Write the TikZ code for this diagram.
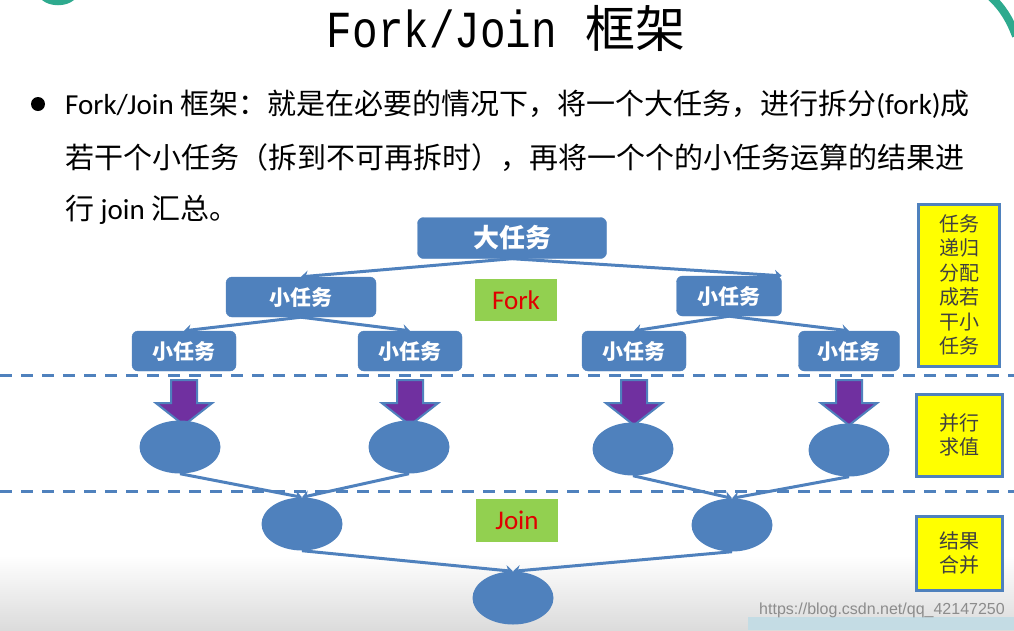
\documentclass[tikz,border=0pt]{standalone}
\usepackage{fontspec}
\setmainfont{Liberation Serif}
\newfontfamily\cjk{Noto Sans CJK SC}
\newfontfamily\latin{Carlito}
\newfontfamily\titlefont{Liberation Mono}
\newfontfamily\wmfont{Liberation Sans}
\usetikzlibrary{shapes.geometric,arrows.meta}

\definecolor{boxblue}{HTML}{4F81BD}
\definecolor{forkgreen}{HTML}{92D050}
\definecolor{arrowpurple}{HTML}{7030A0}
\definecolor{noteyellow}{HTML}{FFFF00}
\definecolor{labelred}{HTML}{E00000}
\definecolor{cornerteal}{HTML}{2EAA8E}
\definecolor{bottomblue}{HTML}{C4DCE4}

\tikzset{
  bigtask/.style={rounded corners=6pt, fill=boxblue, draw=boxblue, text=white,
    font=\cjk\bfseries\fontsize{26}{26}\selectfont, inner sep=0pt,
    minimum width=189pt, minimum height=41pt},
  subtask/.style={rounded corners=6pt, fill=boxblue, draw=boxblue, text=white,
    font=\cjk\bfseries\fontsize{21}{21}\selectfont, inner sep=0pt, minimum height=40pt},
  leaf/.style={ellipse, fill=boxblue, draw=none, minimum width=81pt, minimum height=53pt},
  phase/.style={fill=forkgreen, text=labelred, font=\latin\fontsize{27}{27}\selectfont,
    inner sep=0pt, minimum width=82pt, minimum height=42pt},
  note/.style={fill=noteyellow, draw=boxblue, line width=3pt, text=black!75,
    font=\cjk\fontsize{20}{24.5}\selectfont, align=center, inner sep=0pt},
  body/.style={font=\cjk\fontsize{29}{29}\selectfont, inner sep=0pt, anchor=west},
  link/.style={draw=boxblue, line width=3pt, -{Stealth[length=7pt,width=11pt]}},
  sepline/.style={draw=boxblue, line width=3pt, dash pattern=on 12pt off 9pt},
  fatarrow/.style={fill=arrowpurple, draw=boxblue, line width=2pt, line join=miter}
}

\begin{document}
\begin{tikzpicture}[x=1pt,y=-1pt]
  \useasboundingbox (0,0) rectangle (1014,630);
  \clip (0,0) rectangle (1014,630);

  % backdrop
  \shade[top color=white, bottom color=black!14] (0,555) rectangle (1014,630);
  \fill[bottomblue] (748,617) rectangle (1014,630);
  \fill[cornerteal] (42,0) .. controls (50,7) and (66,7) .. (74,0) -- cycle;
  \draw[cornerteal, line width=8pt] (990,-4) .. controls (1003,8) and (1010,20) .. (1016,36);

  % title and text
  \node (title) at (506,28) {\scalebox{0.82}[1]{\titlefont\fontsize{52}{52}\selectfont Fork/Join}%
    \hspace{28pt}{\cjk\fontsize{50}{50}\selectfont 框架}};
  \node[circle, fill=black, inner sep=0pt, minimum size=14pt] (dot) at (38,104) {};
  \node[body] (line1) at (65,104) {{\latin Fork/Join} 框架：就是在必要的情况下，将一个大任务，进行拆分{\latin (fork)}成};
  \node[body] (line2) at (65,158) {若干个小任务（拆到不可再拆时），再将一个个的小任务运算的结果进};
  \node[body] (line3) at (65,210) {行 {\latin join} 汇总。};

  % separators
  \draw[sepline] (0,375) -- (1014,375);
  \draw[sepline] (0,491) -- (1014,491);

  % fork tree
  \node[bigtask] (big) at (512,238) {大任务};
  \node[subtask, minimum width=150pt] (s1) at (301,297) {小任务};
  \node[subtask, minimum width=105pt] (s2) at (729,296) {小任务};
  \node[subtask, minimum width=104pt] (t1) at (184,351) {小任务};
  \node[subtask, minimum width=104pt] (t2) at (410,351) {小任务};
  \node[subtask, minimum width=104pt] (t3) at (634,351) {小任务};
  \node[subtask, minimum width=101pt] (t4) at (849,351) {小任务};
  \node[phase] (fork) at (516,300) {Fork};

  \draw[link] (big.south) -- (s1.north);
  \draw[link] (big.south) -- (s2.north east);
  \draw[link] (s1.south) -- (t1.north);
  \draw[link] (s1.south) -- (t2.north);
  \draw[link] (s2.south) -- (t3.north);
  \draw[link] (s2.south) -- (t4.north);

  % compute
  \foreach \t in {t1,t2,t3,t4}
    \draw[fatarrow] ([xshift=-13pt,yshift=-9pt]\t.south) -- ++(26,0) -- ++(0,23)
      -- ++(15,0) -- ++(-28,22) -- ++(-28,-22) -- ++(15,0) -- cycle;

  \node[leaf] (e1) at (180,447) {};
  \node[leaf] (e2) at (409,447) {};
  \node[leaf] (e3) at (633,449) {};
  \node[leaf] (e4) at (849,450) {};

  % join tree
  \node[leaf] (f1) at (302,524) {};
  \node[leaf] (f2) at (732,525) {};
  \node[leaf] (g) at (513,598) {};
  \node[phase, minimum height=43pt] (join) at (517,520) {Join};

  \draw[link] (e1.south) -- (f1.north);
  \draw[link] (e2.south) -- (f1.north);
  \draw[link] (e3.south) -- (f2.north);
  \draw[link] (e4.south) -- (f2.north);
  \draw[link] (f1.south) -- (g.north);
  \draw[link] (f2.south) -- (g.north);

  % side notes
  \node[note, minimum width=81pt, minimum height=162pt] (n1) at (959,285)
    {任务\\递归\\分配\\成若\\干小\\任务};
  \node[note, minimum width=86pt, minimum height=82pt] (n2) at (959,435) {并行\\求值};
  \node[note, minimum width=86pt, minimum height=74pt] (n3) at (959,553) {结果\\合并};

  \node[font=\wmfont\fontsize{16}{16}\selectfont, text=black!45] (mark) at (882,610)
    {https://blog.csdn.net/qq\_42147250};
\end{tikzpicture}
\end{document}
